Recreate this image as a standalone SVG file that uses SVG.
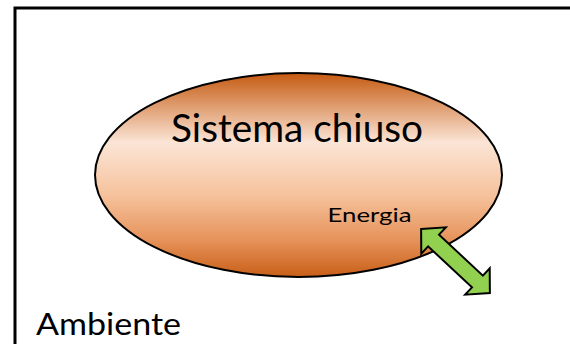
<svg xmlns="http://www.w3.org/2000/svg" width="570" height="344" viewBox="0 0 570 344">
  <defs>
    <linearGradient id="orange" x1="0" y1="0" x2="0" y2="1">
      <stop offset="0" stop-color="#C55A11"/>
      <stop offset="0.34" stop-color="#FBE5D6"/>
      <stop offset="0.6" stop-color="#F6C29C"/>
      <stop offset="0.82" stop-color="#E6925A"/>
      <stop offset="1" stop-color="#C85F18"/>
    </linearGradient>
    <style>
      .lbl { font-family: Lato, "Liberation Sans", sans-serif; fill: #000; }
    </style>
  </defs>
  <rect width="570" height="344" fill="#FFFFFF"/>
  <g id="ambiente">
    <rect x="15" y="8" width="600" height="400" fill="none" stroke="#000" stroke-width="3"/>
    <text class="lbl" x="36" y="335" font-size="31" textLength="145" lengthAdjust="spacingAndGlyphs">Ambiente</text>
  </g>
  <g id="sistema">
    <ellipse cx="298.5" cy="175" rx="203.5" ry="102" fill="url(#orange)" stroke="#000" stroke-width="2"/>
    <text class="lbl" x="171" y="142" font-size="38" textLength="252" lengthAdjust="spacingAndGlyphs">Sistema chiuso</text>
    <text class="lbl" x="327.5" y="221.5" font-size="20" textLength="84" lengthAdjust="spacingAndGlyphs">Energia</text>
  </g>
  <g id="connectors">
    <polygon transform="translate(455.5 261) rotate(43)" points="-47,0 -30,-18 -30,-8 30,-8 30,-18 47,0 30,18 30,8 -30,8 -30,18" fill="#92D050" stroke="#000" stroke-width="2" stroke-linejoin="miter"/>
  </g>
</svg>
